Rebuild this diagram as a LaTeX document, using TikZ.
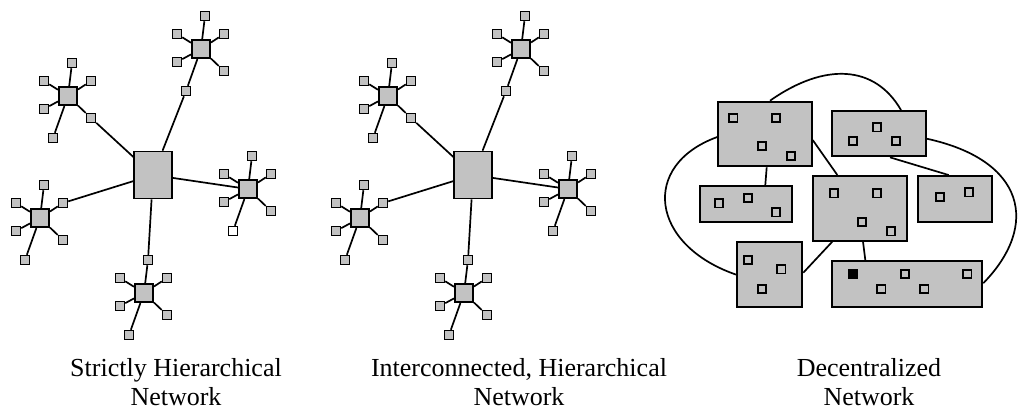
\documentclass[tikz,border=0pt]{standalone}
\usepackage{fontspec}
\setmainfont{Liberation Serif}
\begin{document}
\begin{tikzpicture}[x=1pt, y=-1pt,
		hub/.style={draw, line width=1.6pt, fill=black!24, inner sep=0pt, minimum size=18.5pt},
		core/.style={hub, minimum width=37.5pt, minimum height=47pt},
		leaf/.style={draw, line width=1.5pt, fill=black!24, inner sep=0pt, minimum size=9pt},
		link/.style={line width=1.7pt},
		site/.style={draw, line width=2pt, fill=black!24, inner sep=0pt},
		host/.style={draw, line width=1.8pt, fill=black!24, inner sep=0pt, minimum size=8.2pt},
		caption/.style={align=center, font=\fontsize{26}{29}\selectfont, inner sep=0pt}]
	\useasboundingbox (0,0) rectangle (1018,413);
	
	\foreach \n/\dx in {s/0, i/320} {
		\node[core] (\n c) at (153+\dx,175) {};
		\foreach \k/\x/\y in {tr/201/49, tl/68/96, r/248/189, l/40/218, b/144/293} {
			\node[hub] (\n\k) at (\x+\dx,\y) {};
			\foreach \m/\p/\q in {1/4/-33, 2/-24/-15, 3/23/-15, 4/-24/13, 5/23/22, 6/-15/42}
				\node[leaf] (\n\k\m) at (\x+\dx+\p,\y+\q) {};
		}
	}
	\node[leaf, fill=white] (swhite) at (sr6) {};
	\foreach \n in {s,i} {
		\foreach \k in {tr,tl,r,l,b}
			\foreach \m in {1,...,6}
				\draw[link] (\n\k) -- (\n\k\m);
		\draw[link] (\n c) -- (\n tr6);
		\draw[link] (\n c) -- (\n tl5);
		\draw[link] (\n c) -- (\n r);
		\draw[link] (\n c) -- (\n l3);
		\draw[link] (\n c) -- (\n b1);
	}
	
	\node[site, minimum width=93.4pt, minimum height=64.6pt] (dtl) at (765,134) {};
	\node[site, minimum width=93.4pt, minimum height=45.3pt] (dtr) at (879,133.7) {};
	\node[site, minimum width=92.6pt, minimum height=36.3pt] (dml) at (746,204.2) {};
	\node[site, minimum width=93.4pt, minimum height=64.7pt] (dmid) at (860,208.3) {};
	\node[site, minimum width=74pt, minimum height=46.3pt] (dmr) at (954.7,199.2) {};
	\node[site, minimum width=65pt, minimum height=65.3pt] (dbl) at (769.8,274.7) {};
	\node[site, minimum width=150pt, minimum height=46.3pt] (dbr) at (907.3,284.2) {};
	\foreach \x/\y [count=\i] in {733.3/117.7, 776/117.7, 762/146, 790.7/155.7}
		\node[host] (dtl\i) at (\x,\y) {};
	\foreach \x/\y [count=\i] in {876.7/127.3, 852.7/141, 895.7/141}
		\node[host] (dtr\i) at (\x,\y) {};
	\foreach \x/\y [count=\i] in {718.7/203.3, 747.7/197.7, 776/212.3}
		\node[host] (dml\i) at (\x,\y) {};
	\foreach \x/\y [count=\i] in {833.7/193.3, 876.7/193.3, 862/222, 891/231.3}
		\node[host] (dmid\i) at (\x,\y) {};
	\foreach \x/\y [count=\i] in {940/196.7, 968.7/192.3}
		\node[host] (dmr\i) at (\x,\y) {};
	\foreach \x/\y [count=\i] in {747.7/260, 781.3/269.3, 762/288.7}
		\node[host] (dbl\i) at (\x,\y) {};
	\foreach \x/\y [count=\i] in {905/274, 967.3/274, 881.3/288.7, 924.3/288.7}
		\node[host] (dbr\i) at (\x,\y) {};
	\node[host, fill=black] (dbr0) at (852.7,274) {};
	
	\draw[link] ([xshift=1.7pt]dtl.south) -- ([xshift=19.3pt]dml.north);
	\draw[link] ([yshift=-6pt]dtl.east) -- ([xshift=25pt]dmid.north west);
	\draw[link] ([xshift=11pt]dtr.south) -- ([xshift=-6pt]dmr.north);
	\draw[link] ([xshift=3pt]dmid.south) -- ([xshift=34pt]dbr.north west);
	\draw[link] ([xshift=20pt]dmid.south west) -- ([yshift=2pt]dbl.east);
	\draw[link] ([xshift=5pt]dtl.north) .. controls (825,62) and (875,65) .. ([xshift=22pt]dtr.north);
	\draw[link] ([yshift=-3pt]dtl.west) .. controls (640,165) and (650,245) .. (dbl.west);
	\draw[link] ([yshift=-5pt]dtr.east) .. controls (1025,160) and (1040,225) .. ([yshift=1pt]dbr.east);
	
	\node[caption, anchor=base] (caps) at (176,405) {Strictly Hierarchical\\Network};
	\node[caption, anchor=base] (capi) at (519,405) {Interconnected, Hierarchical\\Network};
	\node[caption, anchor=base] (capd) at (869,405) {Decentralized\\Network};
\end{tikzpicture}
\end{document}
